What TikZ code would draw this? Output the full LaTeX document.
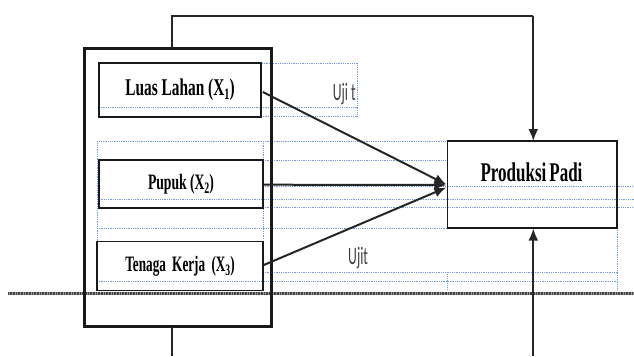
\documentclass[tikz,border=0pt]{standalone}
\usepackage{fontspec}
\usepackage{graphicx}
\setmainfont{Liberation Serif}
\newfontfamily\calib{Carlito}
\usetikzlibrary{arrows.meta,calc}
\newcommand{\condtxt}[2]{\scalebox{#1}[1]{#2}}
\newcommand{\subnum}[1]{{\fontsize{16}{16}\selectfont\raisebox{-4pt}{#1}}}
\begin{document}
\begin{tikzpicture}[x=1pt,y=-1pt,
  varbox/.style={draw=black!90,line width=1.6pt,inner sep=0pt,font=\bfseries},
  outerbox/.style={draw=black!90,line width=3pt,inner sep=0pt},
  conn/.style={draw=black!85,line width=2pt},
  arr/.style={conn,-{Latex[length=12pt,width=10pt]}},
  guide/.style={draw={rgb,255:red,110;green,155;blue,225},line width=1pt,dash pattern=on 1pt off 0.8pt},
  ujilabel/.style={text=black!75,inner sep=0pt,font=\calib\fontsize{25}{25}\selectfont}
]
\useasboundingbox (0,0) rectangle (634,356);
% hatched baseline
\draw[draw=black!40,line width=3pt] (8,293) -- (634,293);
\draw[draw=black!75,line width=3pt,dash pattern=on 0.8pt off 0.8pt] (8,293) -- (634,293);
% blue guide lines
\draw[guide] (262,63) -- (357,63) -- (357,116) -- (262,116);
\draw[guide] (99,107.5) -- (357,107.5);
\draw[guide] (97,290) -- (97,141) -- (447,141);
\draw[guide] (263,141) -- (263,240);
\draw[guide] (263,160.5) -- (447,160.5);
\draw[guide] (263,186.7) -- (634,186.7);
\draw[guide] (97,199.3) -- (634,199.3);
\draw[guide] (263,207.7) -- (634,207.7);
\draw[guide] (97,228.3) -- (447,228.3);
\draw[guide] (263,272.3) -- (617,272.3);
\draw[guide] (97,281) -- (617,281);
\draw[guide] (447,272.3) -- (447,290);
\draw[guide] (617,228.3) -- (617,290);
% outer box
\node[outerbox,minimum width=187.4pt,minimum height=278.4pt] (outer) at (178,187.5) {};
% variable boxes
\node[varbox,minimum width=162pt,minimum height=53.5pt] (luas) at (180,90)
  {\fontsize{24}{24}\selectfont\condtxt{0.64}{Luas Lahan (X\subnum{1})}};
\node[varbox,minimum width=164pt,minimum height=47.7pt] (pupuk) at (181,184)
  {\fontsize{22}{22}\selectfont\condtxt{0.62}{Pupuk (X\subnum{2})}};
\node[varbox,minimum width=166pt,minimum height=49pt] (tenaga) at (180,266)
  {\fontsize{22}{22}\selectfont\condtxt{0.6}{Tenaga\hspace{5pt} Kerja\hspace{5pt} (X\subnum{3})}};
\node[varbox,minimum width=169.3pt,minimum height=87pt] (prod) at (532.3,184.5) {};
\node[inner sep=0pt,font=\bfseries] (prodlabel) at (531.5,172)
  {\fontsize{27}{27}\selectfont\condtxt{0.63}{Produksi\hspace{-2pt} Padi}};
% labels
\node[ujilabel,anchor=base east] (uji1) at (356,100) {\condtxt{0.55}{Uji t}};
\node[ujilabel,anchor=base west] (uji2) at (348,264) {\condtxt{0.55}{Ujit}};
% top connector
\coordinate (topc1) at (172.3,15.5);
\coordinate (topc2) at (533.3,15.5);
\draw[conn] (172.3,48.3) -- (topc1) -- (topc2);
\draw[arr] (topc2) -- (533.3,141);
% bottom stubs
\coordinate (botl) at (172.3,356);
\draw[conn] (172.3,326.7) -- (botl);
\coordinate (botr) at (533.3,356);
\draw[arr] (botr) -- (533.3,228.5);
% arrows to produksi
\draw[arr] (luas.east) ++(1,2) -- ($(prod.west)+(-0.5,0)$);
\draw[arr] ($(pupuk.east)+(0,0.7)$) -- ($(prod.west)+(-0.5,0.5)$);
\draw[arr] ($(tenaga.east)+(0,-1)$) -- ($(prod.west)+(-0.5,3)$);
\end{tikzpicture}
\end{document}
